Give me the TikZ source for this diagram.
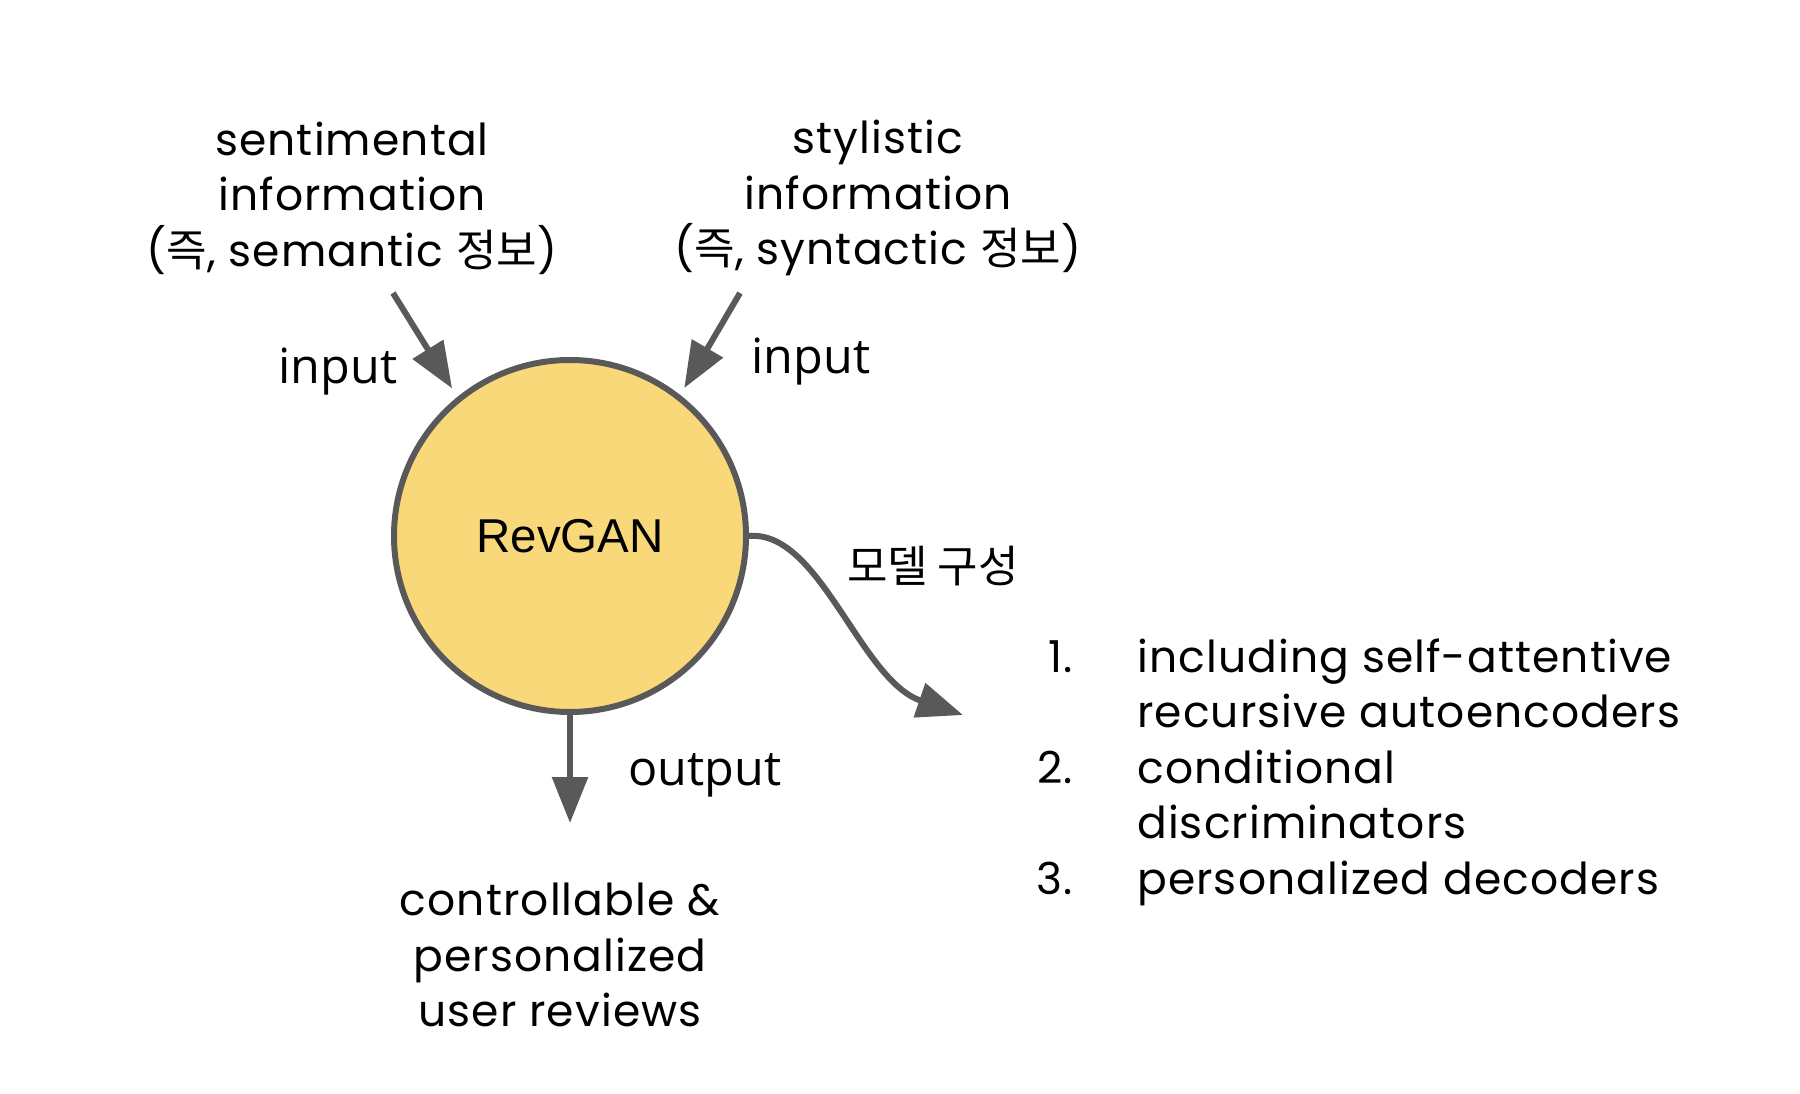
\documentclass[tikz,border=0pt]{standalone}
\usepackage{fontspec}
\setmainfont{Poppins}[LetterSpace=2.5]
\newfontfamily\krfont{Noto Sans CJK KR}
\newfontfamily\labfont{Open Sans}
\newfontfamily\revfont{Liberation Sans}
\usetikzlibrary{arrows.meta, positioning}
\definecolor{revyellow}{HTML}{F9D879}
\definecolor{darkgray}{HTML}{595959}
\tikzset{
  txt/.style={align=center, inner sep=0pt, font=\fontsize{44}{55.5}\selectfont},
  lab/.style={inner sep=0pt, font=\labfont\fontsize{48.5}{50}\selectfont},
  krlab/.style={inner sep=0pt, font=\krfont\fontsize{44}{50}\selectfont},
  core/.style={circle, draw=darkgray, line width=6pt, fill=revyellow,
               minimum size=352pt, inner sep=0pt, font=\revfont\fontsize{47.5}{50}\selectfont},
  arrow/.style={-{Triangle[length=46pt,width=35pt]}, line width=6pt, draw=darkgray},
}

\begin{document}
\begin{tikzpicture}[x=1pt, y=-1pt]
  \useasboundingbox (0,0) rectangle (1800,1094);

  % Model
  \node[core] (rev) at (570,536) {RevGAN};

  % Inputs
  \node[txt] (sem) at (352,198) {sentimental\\information\\({\krfont 즉}, semantic {\krfont 정보})};
  \node[txt] (syn) at (878,198) {stylistic\\information\\({\krfont 즉}, syntactic {\krfont 정보})};
  \coordinate (semstart) at (393,293);
  \coordinate (synstart) at (740,293);
  \node[lab, anchor=base] (inleft) at (338,383) {input};
  \node[lab, anchor=base] (inright) at (811,373) {input};

  % Output
  \coordinate (outend) at (570,823);
  \node[lab, anchor=base] (outlab) at (705,785) {output};
  \node[txt] (reviews) at (560,955) {controllable \&\\personalized\\user reviews};

  % Components
  \coordinate (compend) at (963,715);
  \node[krlab, anchor=base] (comp) at (933,582) {모델 구성};
  \node[txt, anchor=base east] (num1) at (1073,672) {1.};
  \node[txt, anchor=base east] (num2) at (1073,783) {2.};
  \node[txt, anchor=base east] (num3) at (1073,894) {3.};
  \node[txt, anchor=base west] (item1a) at (1137,672) {including self-attentive};
  \node[txt, anchor=base west] (item1b) at (1137,727.5) {recursive autoencoders};
  \node[txt, anchor=base west] (item2a) at (1137,783) {conditional};
  \node[txt, anchor=base west] (item2b) at (1137,838.5) {discriminators};
  \node[txt, anchor=base west] (item3) at (1137,894) {personalized decoders};

  % Arrows
  \draw[arrow, shorten >=10pt] (semstart) -- (rev.129);
  \draw[arrow, shorten >=8pt] (synstart) -- (rev.52);
  \draw[arrow] (rev.south) -- (outend);
  \draw[arrow] (rev.east) .. controls (820,530) and (860,680) .. (compend);

\end{tikzpicture}
\end{document}
